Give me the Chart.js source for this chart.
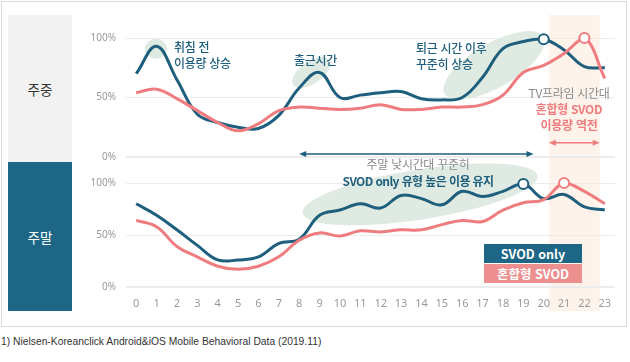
<!DOCTYPE html>
<html lang="ko">
<head>
<meta charset="utf-8">
<script src="https://cdn.jsdelivr.net/npm/chart.js@4.4.1/dist/chart.umd.min.js"></script>
<style>
  body { margin: 0; width: 630px; height: 362px; background: #fff; position: relative; overflow: hidden;
         font-family: "Noto Sans CJK KR", "Noto Sans", sans-serif; }
  .frame { position: absolute; left: 1px; top: 1px; width: 624px; height: 324px; border: 1px solid #dadada; }
  .side { position: absolute; left: 8px; width: 64px; display: flex; align-items: center; justify-content: center; font-size: 13.5px; }
  .wk { top: 15px; height: 147px; background: #f2f2f2; color: #333; }
  .we { top: 162px; height: 149px; background: #1d6685; color: #fff; }
  canvas { position: absolute; left: 0; }
  .note { position: absolute; font-size: 12px; line-height: 16px; white-space: nowrap; letter-spacing: -0.3px; }
  .teal { color: #1f5f7e; font-weight: 500; }
  .grey { color: #8a8a8a; }
  .pink { color: #ef7c7e; font-weight: 700; }
  .key { position: absolute; left: 484px; width: 98px; height: 19px; line-height: 19px; text-align: center;
         color: #fff; font-weight: 700; font-size: 12.5px; }
  .foot { position: absolute; left: 1px; top: 336px; font-size: 10.3px; color: #333; font-family: "Liberation Sans", sans-serif; }
</style>
</head>
<body>
<div class="frame"></div>
<div class="side wk">주중</div>
<div class="side we">주말</div>
<canvas id="weekend" width="630" height="160" style="top:160px"></canvas>
<canvas id="weekday" width="630" height="173" style="top:0"></canvas>

<div class="note teal" style="left:174px;top:39px">취침 전<br>이용량 상승</div>
<div class="note teal" style="left:294px;top:52px">출근시간</div>
<div class="note teal" style="left:416px;top:40px">퇴근 시간 이후<br>꾸준히 상승</div>
<div class="note grey" style="left:318px;top:156px;width:200px;text-align:center">주말 낮시간대 꾸준히</div>
<div class="note teal" style="left:318px;top:173px;width:200px;text-align:center;font-weight:700;letter-spacing:-0.6px">SVOD only 유형 높은 이용 유지</div>
<div class="note grey" style="left:519px;top:85px;width:100px;text-align:center">TV프라임 시간대</div>
<div class="note pink" style="left:519px;top:101px;width:100px;text-align:center">혼합형 SVOD<br>이용량 역전</div>

<div class="key" style="top:244px;background:#1d6685">SVOD only</div>
<div class="key" style="top:264px;background:#ee8f8f">혼합형 SVOD</div>

<div class="foot">1) Nielsen-Koreanclick Android&amp;iOS Mobile Behavioral Data (2019.11)</div>

<script>
// hours of the day (x axis)
const hours = [0,1,2,3,4,5,6,7,8,9,10,11,12,13,14,15,16,17,18,19,20,21,22,23];
const yTicks = [0, 50, 100];

// weekday usage share (%)
const weekdaySvod  = [70,93,65,36,29,25,24,35,58,71,50,52,54,55,49,48,50,67,91,97,99,90,76,75];
const weekdayMixed = [54,57,49,39,29,22,28,39,42,41,40,41,44,40,40,42,42,44,52,71,77,87,100,66];

// weekend usage share (%)
const weekendSvod  = [80,69,55,40,26,26,29,42,46,69,74,80,76,88,85,79,92,87,92,99,85,89,77,74];
const weekendMixed = [64,58,39,29,20,17,20,29,45,52,49,54,53,55,55,60,64,63,74,81,84,100,92,80];

// hour where each series gets a hollow marker
const weekdayMarks = { svod: 20, mixed: 22 };
const weekendMarks = { svod: 19, mixed: 21 };

const primeTime = [20.25, 22.75];

const TEAL = '#1f5f7e';
const PINK = '#ef7c7e';

// background band + green blobs + arrows
const decor = {
    id: 'decor',
    beforeDraw(chart, args, opts) {
        const ctx = chart.ctx, x = chart.scales.x;
        const x0 = x.getPixelForValue(primeTime[0]);
        const x1 = x.getPixelForValue(primeTime[1]);
        ctx.save();
        ctx.fillStyle = '#fdf3ea';
        ctx.fillRect(x0, opts.bandTop, x1 - x0, opts.bandBottom - opts.bandTop);
        ctx.restore();
    },
    beforeDatasetsDraw(chart, args, opts) {
        const ctx = chart.ctx, x = chart.scales.x, y = chart.scales.y;
        ctx.save();
        ctx.fillStyle = '#dfebe2';
        (opts.blobs || []).forEach(b => {
            ctx.beginPath();
            ctx.ellipse(x.getPixelForValue(b.h), y.getPixelForValue(b.v), b.rx, b.ry, b.rot * Math.PI / 180, 0, Math.PI * 2);
            ctx.fill();
        });
        (opts.arrows || []).forEach(a => {
            const xa = x.getPixelForValue(a.from), xb = x.getPixelForValue(a.to), yy = y.getPixelForValue(a.v);
            ctx.strokeStyle = a.color; ctx.fillStyle = a.color; ctx.lineWidth = 1.5;
            ctx.beginPath(); ctx.moveTo(xa + 3, yy); ctx.lineTo(xb - 3, yy); ctx.stroke();
            [[xa, 1], [xb, -1]].forEach(([px, d]) => {
                ctx.beginPath();
                ctx.moveTo(px, yy);
                ctx.lineTo(px + d * 7, yy - 3);
                ctx.lineTo(px + d * 7, yy + 3);
                ctx.closePath(); ctx.fill();
            });
        });
        ctx.restore();
    }
};

function lineSet(label, values, color, mark, order) {
    return {
        label: label,
        data: values.map((v, i) => ({ x: hours[i], y: v })),
        borderColor: color,
        borderWidth: 3,
        tension: 0.4,
        fill: false,
        clip: false,
        order: order,
        pointRadius: hours.map(h => h === mark ? 5 : 0),
        pointBackgroundColor: '#fff',
        pointBorderColor: color,
        pointBorderWidth: 2
    };
}

function makeChart(id, svod, mixed, marks, showX, padding, decorOpts) {
    return new Chart(document.getElementById(id), {
        type: 'line',
        data: {
            datasets: [
                lineSet('SVOD only', svod, TEAL, marks.svod, 1),
                lineSet('혼합형 SVOD', mixed, PINK, marks.mixed, 0)
            ]
        },
        options: {
            responsive: false,
            animation: false,
            layout: { padding: padding },
            plugins: { legend: { display: false }, tooltip: { enabled: false }, decor: decorOpts },
            scales: {
                x: {
                    type: 'linear', min: -0.5, max: 23.5,
                    display: showX,
                    afterBuildTicks: axis => { axis.ticks = hours.map(h => ({ value: h })); },
                    afterFit: axis => { axis.height = showX ? 33 : 0; },
                    grid: { display: false, drawTicks: false },
                    border: { display: false },
                    ticks: { color: '#9a9a9a', font: { size: 11, family: 'Noto Sans' }, padding: 10, autoSkip: false, maxRotation: 0 }
                },
                y: {
                    min: 0, max: 100,
                    afterBuildTicks: axis => { axis.ticks = yTicks.map(v => ({ value: v })); },
                    afterFit: axis => { axis.width = 126; },
                    grid: { color: '#ececec', lineWidth: c => c.tick && c.tick.value === 0 ? 2 : 1, drawTicks: false },
                    border: { display: false },
                    ticks: { color: '#9a9a9a', font: { size: 10, family: 'Noto Sans' }, padding: 10, callback: v => v + '%' }
                }
            }
        },
        plugins: [decor]
    });
}

makeChart('weekday', weekdaySvod, weekdayMixed, weekdayMarks, false,
    { top: 38, bottom: 4, left: 0, right: 15 },
    {
        bandTop: 15, bandBottom: 173,
        blobs: [
            { h: 0.97, v: 91, rx: 11, ry: 10, rot: 0 },
            { h: 8.6, v: 71, rx: 22, ry: 11, rot: -35 },
            { h: 17.56, v: 77, rx: 57, ry: 22, rot: -30 }
        ],
        arrows: [
            { from: 8, to: 19.5, v: 2.5, color: TEAL },
            { from: 20.25, to: 22.75, v: 12, color: PINK }
        ]
    });

makeChart('weekend', weekendSvod, weekendMixed, weekendMarks, true,
    { top: 23, bottom: 0, left: 0, right: 15 },
    {
        bandTop: 0, bandBottom: 151,
        blobs: [
            { h: 13.93, v: 89, rx: 119, ry: 25, rot: -9 }
        ]
    });
</script>
</body>
</html>
